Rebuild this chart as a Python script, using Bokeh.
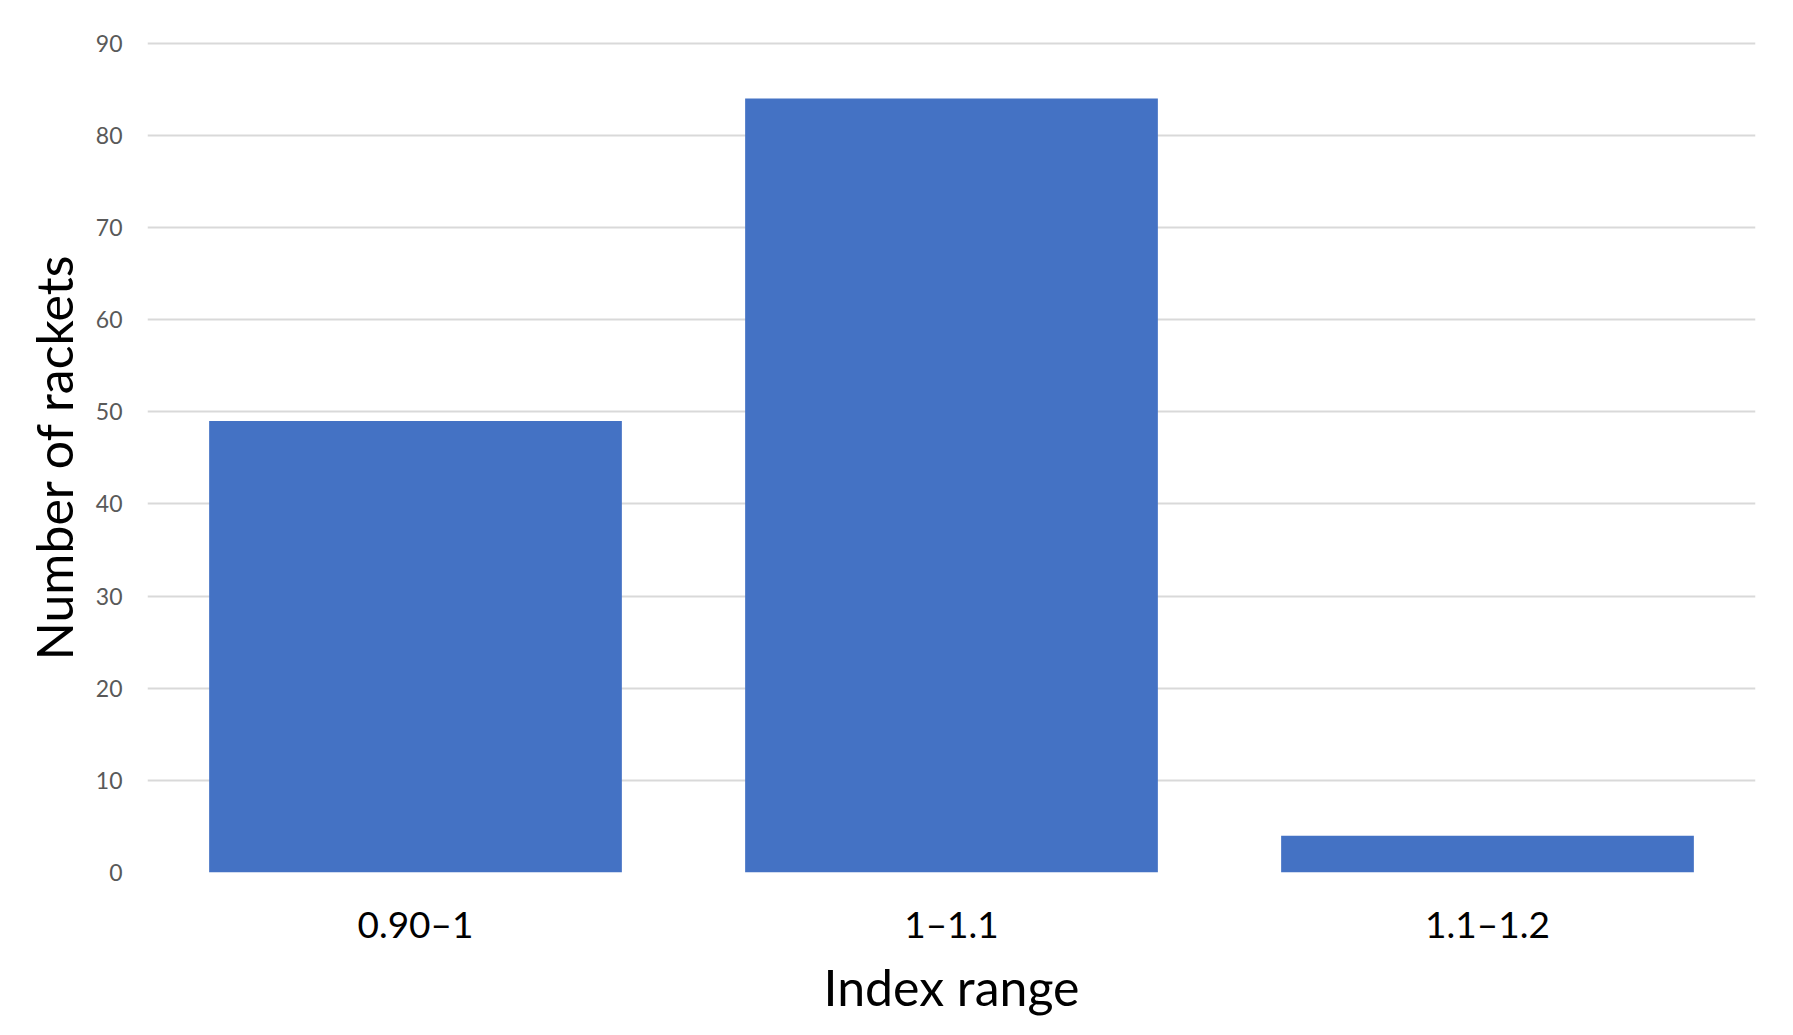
from bokeh.plotting import figure
from bokeh.models import Range1d, FactorRange, FixedTicker, ColumnDataSource
from bokeh.embed import file_html
from bokeh.resources import INLINE

categories = ["0.90\u20131", "1\u20131.1", "1.1\u20131.2"]
counts = [49, 84, 4]
y_ticks = [0, 10, 20, 30, 40, 50, 60, 70, 80, 90]

FONT = "Lato"

src = ColumnDataSource(dict(cat=categories, n=counts))

p = figure(width=1777, height=1019, output_backend="svg", toolbar_location=None,
           x_range=FactorRange(*categories, range_padding=0),
           y_range=Range1d(0, 90.2),
           min_border_left=147, min_border_right=22, min_border_top=41, min_border_bottom=145)

p.vbar(x="cat", top="n", width=0.77, source=src, fill_color="#4472C4", line_color=None)

p.outline_line_color = None
p.background_fill_color = "white"
p.border_fill_color = "white"

p.xgrid.grid_line_color = None
p.ygrid.grid_line_color = "#d9d9d9"
p.ygrid.grid_line_width = 2
p.ygrid.level = "underlay"

p.yaxis.ticker = FixedTicker(ticks=y_ticks)
p.yaxis.axis_line_color = None
p.yaxis.major_tick_line_color = None
p.yaxis.minor_tick_line_color = None
p.yaxis.major_tick_out = 0
p.yaxis.major_label_standoff = 25
p.yaxis.major_label_text_font = FONT
p.yaxis.major_label_text_font_size = "23px"
p.yaxis.major_label_text_color = "#595959"
p.yaxis.axis_label = "Number of rackets"
p.yaxis.axis_label_text_font = FONT
p.yaxis.axis_label_text_font_size = "50px"
p.yaxis.axis_label_text_font_style = "normal"
p.yaxis.axis_label_text_color = "black"
p.yaxis.axis_label_standoff = 9

p.xaxis.axis_line_color = None
p.xaxis.major_tick_line_color = None
p.xaxis.major_tick_out = 0
p.xaxis.major_label_standoff = 28
p.xaxis.major_label_text_font = FONT
p.xaxis.major_label_text_font_size = "37px"
p.xaxis.major_label_text_color = "black"
p.xaxis.axis_label = "Index range"
p.xaxis.axis_label_text_font = FONT
p.xaxis.axis_label_text_font_size = "50px"
p.xaxis.axis_label_text_font_style = "normal"
p.xaxis.axis_label_text_color = "black"
p.xaxis.axis_label_standoff = 8

open("out.html", "w").write(file_html(p, INLINE))
